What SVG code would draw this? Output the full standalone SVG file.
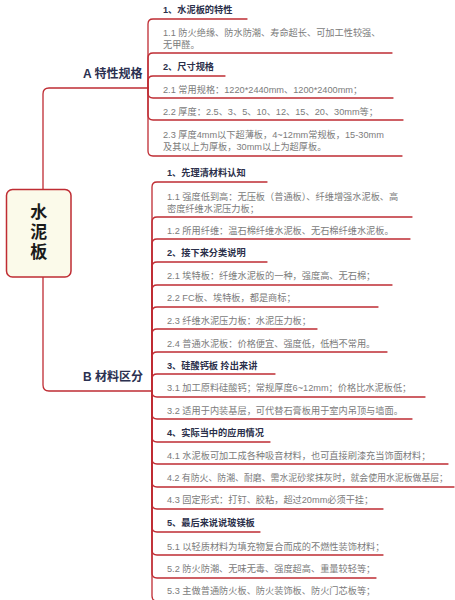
<svg xmlns="http://www.w3.org/2000/svg" width="455" height="600" viewBox="0 0 455 600">
<style>
.l{fill:none;stroke:#bf2c33;stroke-width:1.3;stroke-linecap:round}
.h{font-family:"Liberation Sans","Noto Sans CJK SC",sans-serif;font-size:9.2px;font-weight:bold;fill:#2b2f4a}
.t{font-family:"Liberation Sans","Noto Sans CJK SC",sans-serif;font-size:9.2px;fill:#7b7b7b}
.m{font-family:"Liberation Sans","Noto Sans CJK SC",sans-serif;font-size:12px;font-weight:bold;fill:#2b3050}
.r{font-family:"Noto Sans CJK SC",sans-serif;font-size:17px;font-weight:bold;fill:#1a1a1a}
</style>
<rect width="455" height="600" fill="#ffffff"/>
<g id="connectors">
<path class="l" d="M43,190 V94 Q43,88 49,88 H148"/>
<path class="l" d="M43,277 V385 Q43,391 49,391 H152"/>
<path class="l" d="M148,88 V24 Q148,19 153,19 H247"/>
<path class="l" d="M148,88 V58 Q148,53 153,53 H392"/>
<path class="l" d="M148,88 V81 Q148,76 153,76 H225"/>
<path class="l" d="M148,88 V93 Q148,98 153,98 H393"/>
<path class="l" d="M148,88 V115 Q148,120 153,120 H403"/>
<path class="l" d="M148,88 V151 Q148,156 153,156 H402"/>
<path class="l" d="M152,391 V187 Q152,182 157,182 H267"/>
<path class="l" d="M152,391 V222 Q152,217 157,217 H412"/>
<path class="l" d="M152,391 V244 Q152,239 157,239 H410"/>
<path class="l" d="M152,391 V267 Q152,262 157,262 H267"/>
<path class="l" d="M152,391 V290 Q152,285 157,285 H392"/>
<path class="l" d="M152,391 V312 Q152,307 157,307 H378"/>
<path class="l" d="M152,391 V334 Q152,329 157,329 H317"/>
<path class="l" d="M152,391 V357 Q152,352 157,352 H387"/>
<path class="l" d="M152,391 V379 Q152,374 157,374 H275"/>
<path class="l" d="M152,391 V392 Q152,397 157,397 H425"/>
<path class="l" d="M152,391 V414 Q152,419 157,419 H412"/>
<path class="l" d="M152,391 V437 Q152,442 157,442 H270"/>
<path class="l" d="M152,391 V459 Q152,464 157,464 H448"/>
<path class="l" d="M152,391 V482 Q152,487 157,487 H454"/>
<path class="l" d="M152,391 V504 Q152,509 157,509 H383"/>
<path class="l" d="M152,391 V527 Q152,532 157,532 H260"/>
<path class="l" d="M152,391 V550 Q152,555 157,555 H383"/>
<path class="l" d="M152,391 V573 Q152,578 157,578 H376"/>
<path class="l" d="M152,391 V596 Q152,601 157,601 H380"/>
</g>
<g id="root">
<rect x="6.5" y="189.5" width="64.5" height="87.5" rx="6" fill="#fbfaea" stroke="#bf2c33" stroke-width="1.5"/>
<text class="r" x="38.7" y="233" writing-mode="vertical-rl" text-anchor="middle" letter-spacing="3">水泥板</text>
</g>
<g id="nodeA">
<text class="m" x="83" y="77.5">A 特性规格</text>
</g>
<g id="nodeA1"><text class="h" x="163" y="13.3">1、水泥板的特性</text></g>
<g id="nodeA11"><text class="t" x="163" y="36.3">1.1 防火绝缘、防水防潮、寿命超长、可加工性较强、</text><text class="t" x="163" y="48.3">无甲醛。</text></g>
<g id="nodeA2"><text class="h" x="163" y="70.3">2、尺寸规格</text></g>
<g id="nodeA21"><text class="t" x="163" y="93.3">2.1 常用规格：1220*2440mm、1200*2400mm；</text></g>
<g id="nodeA22"><text class="t" x="163" y="115.3">2.2 厚度：2.5、3、5、10、12、15、20、30mm等；</text></g>
<g id="nodeA23"><text class="t" x="163" y="138.3">2.3 厚度4mm以下超薄板，4~12mm常规板，15-30mm</text><text class="t" x="163" y="150.3">及其以上为厚板，30mm以上为超厚板。</text></g>
<g id="nodeB">
<text class="m" x="83" y="380.5">B 材料区分</text>
</g>
<g id="nodeB1"><text class="h" x="167" y="176.3">1、先理清材料认知</text></g>
<g id="nodeB11"><text class="t" x="167" y="200.3">1.1 强度低到高：无压板（普通板）、纤维增强水泥板、高</text><text class="t" x="167" y="211.8">密度纤维水泥压力板；</text></g>
<g id="nodeB12"><text class="t" x="167" y="234.3">1.2 所用纤维：温石棉纤维水泥板、无石棉纤维水泥板。</text></g>
<g id="nodeB2"><text class="h" x="167" y="256.3">2、接下来分类说明</text></g>
<g id="nodeB21"><text class="t" x="167" y="279.3">2.1 埃特板：纤维水泥板的一种，强度高、无石棉；</text></g>
<g id="nodeB22"><text class="t" x="167" y="301.3">2.2 FC板、埃特板，都是商标；</text></g>
<g id="nodeB23"><text class="t" x="167" y="324.3">2.3 纤维水泥压力板：水泥压力板；</text></g>
<g id="nodeB24"><text class="t" x="167" y="347.3">2.4 普通水泥板：价格便宜、强度低，低档不常用。</text></g>
<g id="nodeB3"><text class="h" x="167" y="369.3">3、硅酸钙板 拎出来讲</text></g>
<g id="nodeB31"><text class="t" x="167" y="391.3">3.1 加工原料硅酸钙；常规厚度6~12mm；价格比水泥板低；</text></g>
<g id="nodeB32"><text class="t" x="167" y="414.3">3.2 适用于内装基层，可代替石膏板用于室内吊顶与墙面。</text></g>
<g id="nodeB4"><text class="h" x="167" y="436.3">4、实际当中的应用情况</text></g>
<g id="nodeB41"><text class="t" x="167" y="459.3">4.1 水泥板可加工成各种吸音材料，也可直接刷漆充当饰面材料；</text></g>
<g id="nodeB42"><text class="t" x="167" y="481.3" style="font-size:9px" textLength="281" lengthAdjust="spacingAndGlyphs">4.2 有防火、防潮、耐磨、需水泥砂浆抹灰时，就会使用水泥板做基层；</text></g>
<g id="nodeB43"><text class="t" x="167" y="503.3">4.3 固定形式：打钉、胶粘，超过20mm必须干挂；</text></g>
<g id="nodeB5"><text class="h" x="167" y="526.3">5、最后来说说玻镁板</text></g>
<g id="nodeB51"><text class="t" x="167" y="550.3">5.1 以轻质材料为填充物复合而成的不燃性装饰材料；</text></g>
<g id="nodeB52"><text class="t" x="167" y="572.3">5.2 防火防潮、无味无毒、强度超高、重量较轻等；</text></g>
<g id="nodeB53"><text class="t" x="167" y="594.3">5.3 主做普通防火板、防火装饰板、防火门芯板等；</text></g>
</svg>
